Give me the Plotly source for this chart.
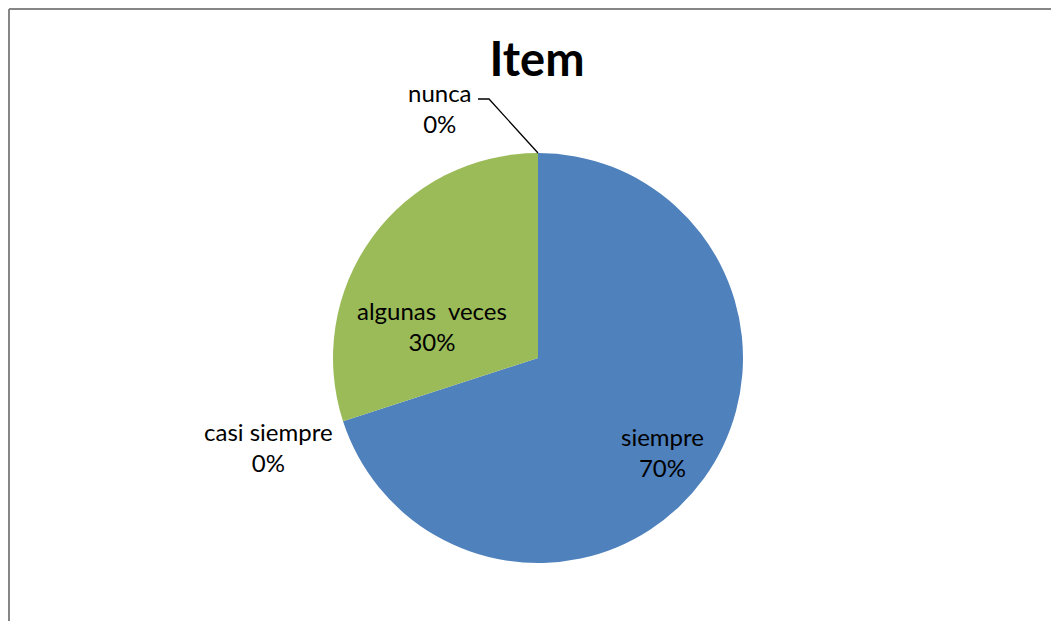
import plotly.graph_objects as go

# ---- data ----
categories = ["siempre", "casi siempre", "algunas  veces", "nunca"]
values = [70, 0, 30, 0]
colors = ["#4F81BD", "#4F81BD", "#9BBB59", "#9BBB59"]
title_text = "Item"

# ---- layout helpers (page pixels -> paper fractions; page has an 8px body offset) ----
W, H = 1059, 621
OFF = 8
def px(x):
    return (x - OFF) / W
def py(y):
    return 1 - (y - OFF) / H

cx, cy, r = 538, 358, 205
total = sum(values)
pct = [round(v * 100 / total) for v in values]

fig = go.Figure()
fig.add_trace(go.Pie(
    labels=categories,
    values=values,
    sort=False,
    direction="clockwise",
    rotation=0,
    marker=dict(colors=colors, line=dict(width=0)),
    textinfo="none",
    hoverinfo="label+percent",
    showlegend=False,
    domain=dict(x=[px(cx - r), px(cx + r)], y=[py(cy + r), py(cy - r)]),
))

label_font = dict(family="Lato, Calibri, sans-serif", size=24, color="#000000")
label_pos = {
    "siempre": (662, 452),
    "casi siempre": (268, 447),
    "algunas  veces": (432, 326),
    "nunca": (440, 108),
}
for cat, p in zip(categories, pct):
    x, y = label_pos[cat]
    fig.add_annotation(
        x=px(x), y=py(y), xref="paper", yref="paper",
        text=f"{cat.replace('  ', '&nbsp; ')}<br>{p}%",
        showarrow=False, font=label_font, align="center",
        xanchor="center", yanchor="middle",
    )

# leader line for "nunca" to the top of the pie
fig.add_shape(
    type="path", xref="paper", yref="paper",
    path=f"M {px(478)} {py(99)} L {px(489)} {py(99)} L {px(cx)} {py(cy - r)}",
    line=dict(color="#000000", width=1.3),
)

# chart-area border (top and left visible)
fig.add_shape(type="line", xref="paper", yref="paper",
              x0=px(9), y0=py(9), x1=1.0, y1=py(9),
              line=dict(color="#868686", width=2))
fig.add_shape(type="line", xref="paper", yref="paper",
              x0=px(9), y0=py(9), x1=px(9), y1=0.0,
              line=dict(color="#868686", width=2))

fig.update_layout(
    width=W, height=H,
    margin=dict(l=0, r=0, t=0, b=0),
    paper_bgcolor="#FFFFFF",
    plot_bgcolor="#FFFFFF",
    title=dict(text=f"<b>{title_text}</b>", x=px(537), y=py(60),
               xanchor="center", yanchor="middle",
               font=dict(family="Lato, Calibri, sans-serif", size=47, color="#000000")),
)

fig.write_html("out.html")
